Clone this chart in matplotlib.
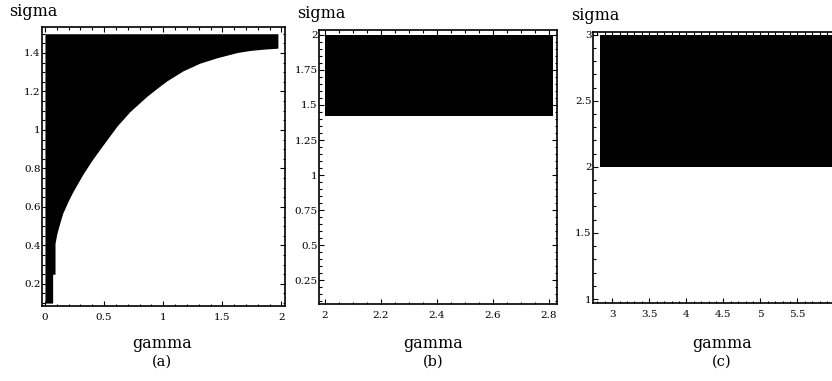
import numpy as np
import matplotlib
matplotlib.use('Agg')
import matplotlib.pyplot as plt
from matplotlib.ticker import MultipleLocator

# frontiere de la zone noire, panneau (a)
gamma_a = [0.0, 0.065, 0.065, 0.085, 0.085, 0.1, 0.127, 0.152, 0.2, 0.237,
           0.321, 0.397, 0.465, 0.609, 0.718, 0.862, 0.972, 1.031, 1.167, 1.31,
           1.454, 1.623, 1.733, 1.85, 1.97]
sigma_a_bas = [0.1, 0.1, 0.25, 0.25, 0.41, 0.46, 0.52, 0.57, 0.635, 0.68,
               0.77, 0.842, 0.9, 1.02, 1.095, 1.175, 1.228, 1.255, 1.307, 1.347,
               1.375, 1.402, 1.413, 1.42, 1.425]
sigma_a_haut = 1.5

# panneau (b)
gamma_b = [2.0, 2.815]
sigma_b_bas = [1.42, 1.42]
sigma_b_haut = [2.0, 2.0]

# panneau (c)
gamma_c = [2.83, 6.45]
sigma_c_bas = [2.0, 2.0]
sigma_c_haut = [3.0, 3.0]

ticks_a_x = [0, 0.5, 1, 1.5, 2]
labels_a_x = ['0', '0.5', '1', '1.5', '2']
ticks_a_y = [0.2, 0.4, 0.6, 0.8, 1.0, 1.2, 1.4]
labels_a_y = ['0.2', '0.4', '0.6', '0.8', '1', '1.2', '1.4']

ticks_b_x = [2.0, 2.2, 2.4, 2.6, 2.8]
labels_b_x = ['2', '2.2', '2.4', '2.6', '2.8']
ticks_b_y = [0.25, 0.5, 0.75, 1.0, 1.25, 1.5, 1.75, 2.0]
labels_b_y = ['0.25', '0.5', '0.75', '1', '1.25', '1.5', '1.75', '2']

ticks_c_x = [3, 3.5, 4, 4.5, 5, 5.5, 6]
labels_c_x = ['3', '3.5', '4', '4.5', '5', '5.5', '6']
ticks_c_y = [1, 1.5, 2, 2.5, 3]
labels_c_y = ['1', '1.5', '2', '2.5', '3']

W, H = 832, 381
police = 'DejaVu Serif'


def creer_axe(fig, gauche, droite, haut, bas):
    # positions en pixels (origine en haut a gauche)
    return fig.add_axes([gauche / W, 1 - bas / H, (droite - gauche) / W, (bas - haut) / H])


def habiller(ax, tx, lx, ty, ly, mx, my, nom, xc, sx, sy):
    ax.set_xticks(tx)
    ax.set_xticklabels(lx, fontsize=7.5, family=police)
    ax.set_yticks(ty)
    ax.set_yticklabels(ly, fontsize=7.5, family=police)
    ax.xaxis.set_minor_locator(MultipleLocator(mx))
    ax.yaxis.set_minor_locator(MultipleLocator(my))
    ax.tick_params(which='both', direction='in', top=True, right=True, width=0.8)
    ax.tick_params(which='major', length=3.5)
    ax.tick_params(axis='x', which='major', pad=5)
    ax.tick_params(axis='y', which='major', pad=1)
    ax.tick_params(which='minor', length=1.8)
    for s in ax.spines.values():
        s.set_linewidth(1.2)
    # etiquettes des axes, a la maniere de Mathematica
    fig.text(sx / W, 1 - sy / H, 'sigma', ha='right', va='center', fontsize=11.5, family=police)
    fig.text(xc / W, 1 - 343 / H, 'gamma', ha='center', va='center', fontsize=11.5, family=police)
    fig.text(xc / W, 1 - 362 / H, nom, ha='center', va='center', fontsize=10.5, family=police)


fig = plt.figure(figsize=(W / 100, H / 100), dpi=100)

ax1 = creer_axe(fig, 42, 285, 27, 306)
ax1.fill_between(gamma_a, sigma_a_bas, sigma_a_haut, color='black', linewidth=0)
ax1.set_xlim(-0.025, 2.03)
ax1.set_ylim(0.085, 1.535)
habiller(ax1, ticks_a_x, labels_a_x, ticks_a_y, labels_a_y, 0.1, 0.05, '(a)', 162, 57, 12)

ax2 = creer_axe(fig, 319, 557, 30, 304)
ax2.fill_between(gamma_b, sigma_b_bas, sigma_b_haut, color='black', linewidth=0)
ax2.set_xlim(1.98, 2.83)
ax2.set_ylim(0.08, 2.035)
habiller(ax2, ticks_b_x, labels_b_x, ticks_b_y, labels_b_y, 0.05, 0.05, '(b)', 433, 345, 13)

ax3 = creer_axe(fig, 593, 870, 32, 303)
ax3.fill_between(gamma_c, sigma_c_bas, sigma_c_haut, color='black', linewidth=0)
ax3.set_xlim(2.74, 6.48)
ax3.set_ylim(0.97, 3.02)
habiller(ax3, ticks_c_x, labels_c_x, ticks_c_y, labels_c_y, 0.1, 0.1, '(c)', 722, 620, 16)

fig.savefig('out.png', dpi=100)
